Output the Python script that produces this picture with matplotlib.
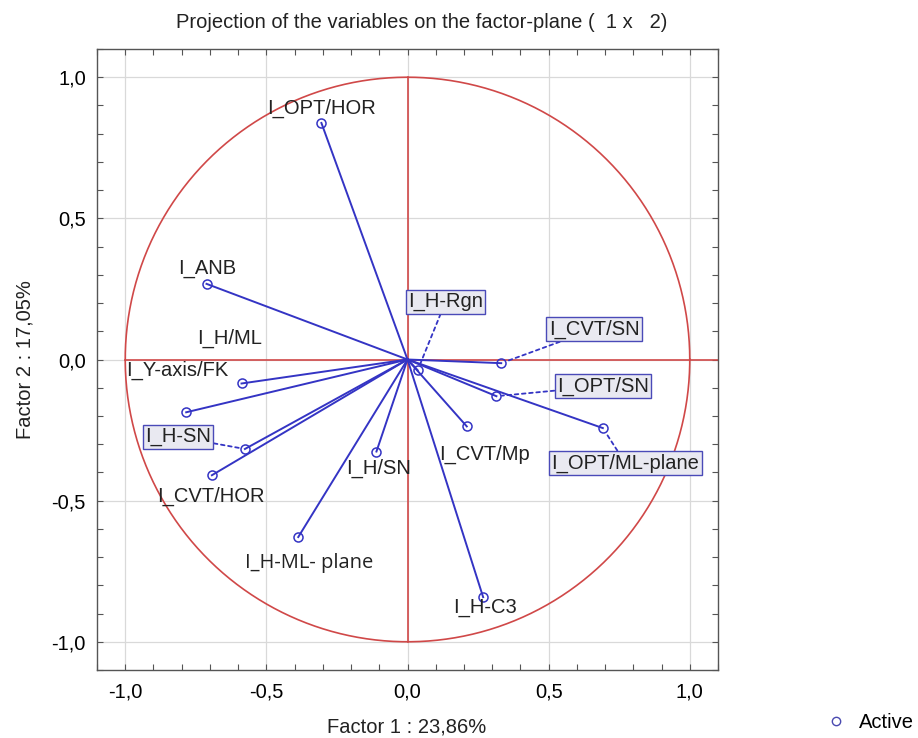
import matplotlib
matplotlib.use("Agg")
import matplotlib.pyplot as plt
import numpy as np
from matplotlib.lines import Line2D
from matplotlib.ticker import MultipleLocator, FuncFormatter

plt.rcParams['font.family'] = ['Liberation Sans', 'DejaVu Sans']

# ---- data ----
variables = ["I_OPT/HOR", "I_ANB", "I_H/ML", "I_Y-axis/FK", "I_H-SN", "I_CVT/HOR",
             "I_H-ML- plane", "I_H/SN", "I_H-Rgn", "I_CVT/SN", "I_OPT/SN",
             "I_OPT/ML-plane", "I_CVT/Mp", "I_H-C3"]
factor1 = [-0.305, -0.712, -0.588, -0.784, -0.576, -0.693,
           -0.387, -0.110, 0.036, 0.332, 0.315, 0.692, 0.210, 0.268]
factor2 = [0.838, 0.268, -0.085, -0.187, -0.317, -0.410,
           -0.629, -0.326, -0.038, -0.013, -0.130, -0.243, -0.237, -0.842]
# label placement (data coords) and whether label is boxed with a leader line
label_x = [-0.305, -0.708, -0.630, -0.815, -0.813, -0.698,
           -0.349, -0.104, 0.135, 0.661, 0.693, 0.772, 0.273, 0.273]
label_y = [0.891, 0.322, 0.076, -0.037, -0.274, -0.486,
           -0.720, -0.384, 0.205, 0.107, -0.094, -0.367, -0.335, -0.877]
boxed = [False, False, False, False, True, False,
         False, False, True, True, True, True, False, False]

title = "Projection of the variables on the factor-plane (  1 x   2)"
xlab = "Factor 1 : 23,86%"
ylab = "Factor 2 : 17,05%"
ticks = [-1.0, -0.5, 0.0, 0.5, 1.0]

BLUE = '#3434c4'
RED = '#d04848'

fig = plt.figure(figsize=(9.18, 7.38), dpi=100)
ax = fig.add_axes([97/918, 1-670/738, 621/918, 621/738])
ax.set_xlim(-1.1, 1.1)
ax.set_ylim(-1.1, 1.1)

# grid
ax.set_xticks(ticks)
ax.set_yticks(ticks)
ax.xaxis.set_minor_locator(MultipleLocator(0.1))
ax.yaxis.set_minor_locator(MultipleLocator(0.1))
ax.grid(True, which='major', color='#d9d9d9', lw=0.9, zorder=0)
fmt = FuncFormatter(lambda v, p: f"{v:.1f}".replace('.', ',').replace('-0,0', '0,0'))
ax.xaxis.set_major_formatter(fmt)
ax.yaxis.set_major_formatter(fmt)
ax.tick_params(which='both', direction='in', top=True, right=True, length=4,
               width=0.8, color='#555555', labelsize=14.5)
ax.tick_params(axis='x', which='major', pad=9)
ax.tick_params(axis='y', which='major', pad=8)
for s in ax.spines.values():
    s.set_color('#555555')
    s.set_linewidth(1.0)

# unit circle and axes lines
t = np.linspace(0, 2*np.pi, 400)
ax.plot(np.cos(t), np.sin(t), color=RED, lw=1.2, zorder=2)
ax.plot([-1.0, 1.1], [0, 0], color=RED, lw=1.2, zorder=2)
ax.plot([0, 0], [-1.0, 1.0], color=RED, lw=1.2, zorder=2)

# vectors
for x, y in zip(factor1, factor2):
    ax.plot([0, x], [0, y], color=BLUE, lw=1.4, zorder=3)
ax.plot(factor1, factor2, 'o', mfc='none', mec=BLUE, ms=6.5, mew=1.1, zorder=4)

# labels
for name, x, y, lx, ly, b in zip(variables, factor1, factor2, label_x, label_y, boxed):
    fam = ['Open Sans', 'Liberation Sans'] if name == "I_H-ML- plane" else ['Liberation Sans']
    if b:
        ax.annotate(name, xy=(x, y), xytext=(lx, ly), ha='center', va='center',
                    fontsize=14.5, color='#222222', family=fam, zorder=5,
                    bbox=dict(boxstyle='square,pad=0.12', fc='#e9e9f1', ec='#4a4ab8', lw=1.0),
                    arrowprops=dict(arrowstyle='-', color=BLUE, lw=1.3,
                                    linestyle=(0, (2, 2)), shrinkA=0, shrinkB=4))
    else:
        ax.text(lx, ly, name, ha='center', va='center', fontsize=14.5,
                color='#222222', family=fam, zorder=5)

# titles
fig.text(422/918, 1-22/738, title, ha='center', va='center', fontsize=14.5, color='#222222')
ax.set_xlabel(xlab, fontsize=14.5, color='#222222')
ax.xaxis.set_label_coords((407-97)/621, (670-727)/621)
ax.xaxis.label.set_va('center')
ax.set_ylabel(ylab, fontsize=14.5, color='#222222')
ax.yaxis.set_label_coords((25-97)/621, (670-360)/621)
ax.yaxis.label.set_va('center')

# legend
h = Line2D([], [], marker='o', ls='none', mfc='none', mec='#4a4ab0', ms=6, mew=1.0)
fig.legend(handles=[h], labels=['Active'], loc='center', bbox_to_anchor=(870/918, 1-723/738),
           frameon=False, fontsize=14.5, handletextpad=0.6, handlelength=1.0)

fig.savefig('out.png', dpi=100)
